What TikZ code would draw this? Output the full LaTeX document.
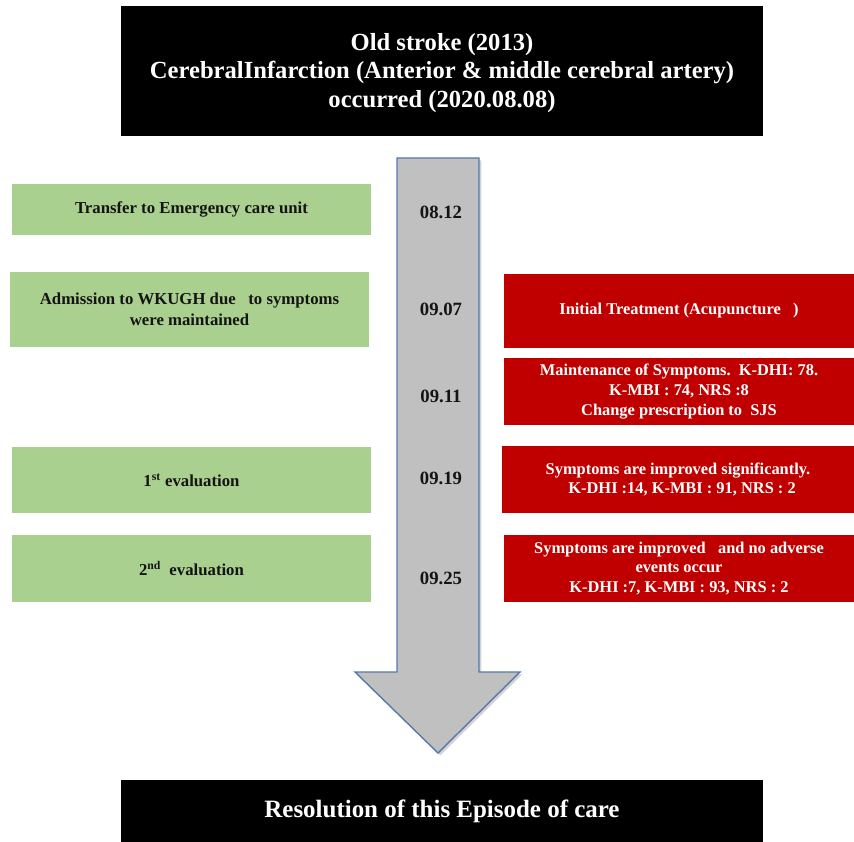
\documentclass[tikz,border=0pt]{standalone}
\usepackage{fontspec}
\setmainfont{Liberation Serif}
\definecolor{boxGreen}{RGB}{169, 208, 142}
\definecolor{boxRed}{RGB}{192, 0, 0}
\definecolor{arrowGray}{RGB}{192, 192, 192}
\definecolor{arrowEdge}{RGB}{84, 122, 172}
\definecolor{textDark}{RGB}{20, 20, 20}
\usepackage{tikz}
\usetikzlibrary{shadows}

\tikzset{
  blackbox/.style={fill=black,text=white,inner sep=0pt,align=center,font=\bfseries},
  greenbox/.style={fill=boxGreen,text=textDark,inner sep=0pt,align=center,minimum width=10.77cm,font=\fontsize{14.3}{18}\selectfont\bfseries},
  redbox/.style={fill=boxRed,text=white,inner sep=0pt,align=center,minimum width=10.5cm,font=\fontsize{14}{16.8}\selectfont\bfseries},
  datelabel/.style={text=textDark,font=\fontsize{16}{18}\selectfont\bfseries}
}

\begin{document}
\begin{tikzpicture}[x=0.03cm,y=-0.03cm]
  \useasboundingbox (0,0) rectangle (854,842);
  % Big arrow - time line
  \draw[arrowEdge,line width=1.2pt,fill=arrowGray,line join=miter,
        drop shadow={shadow xshift=2pt,shadow yshift=-2pt,opacity=0.35}]
    (397,158) -- (479,158) -- (479,672) -- (520,672) -- (438,753)
    -- (355,672) -- (397,672) -- cycle;
  % Onset
  \node[blackbox,minimum width=19.26cm,minimum height=3.9cm] (onsetbox) at (442,71) {};
  \node[text=white,align=center,inner sep=0pt,
        font=\fontsize{21}{24}\selectfont\bfseries] (onset) at (442,73)
    {Old stroke (2013)\\CerebralInfarction (Anterior \& middle cerebral artery)\\occurred (2020.08.08)};
  % Dates
  \node[datelabel] (d1) at (441,212) {08.12};
  \node[datelabel] (d2) at (441,309) {09.07};
  \node[datelabel] (d3) at (441,396) {09.11};
  \node[datelabel] (d4) at (441,478) {09.19};
  \node[datelabel] (d5) at (441,578) {09.25};
  % Course of care
  \node[greenbox,minimum height=1.53cm] (emerg) at (191.5,209.5) {Transfer to Emergency care unit};
  \node[greenbox,minimum height=2.25cm] (admit) at (189.5,309.5) {Admission to WKUGH due\ \ \ to symptoms\\were maintained};
  \node[greenbox,minimum height=1.98cm] (eval1) at (191.5,480) {1\textsuperscript{st} evaluation};
  \node[greenbox,minimum height=2.01cm] (eval2) at (191.5,568.5) {2\textsuperscript{nd}\ \ evaluation};
  % Findings
  \node[redbox,minimum height=2.22cm] (treat) at (679,311) {Initial Treatment (Acupuncture\ \ \ )};
  \node[redbox,minimum height=2.01cm] (maint) at (679,391.5) {Maintenance of Symptoms.\ \ K-DHI: 78.\\K-MBI : 74, NRS :8\\Change prescription to\ \ SJS};
  \node[redbox,minimum width=10.56cm,minimum height=2.01cm] (impr1) at (678,479.5) {Symptoms are improved significantly.\\\ \ K-DHI :14, K-MBI : 91, NRS : 2};
  \node[redbox,minimum height=2.01cm] (impr2) at (679,568.5) {Symptoms are improved\ \ \ and no adverse\\events occur\\K-DHI :7, K-MBI : 93, NRS : 2};
  % Outcome
  \node[blackbox,minimum width=19.26cm,minimum height=1.86cm,
        font=\fontsize{21.3}{24}\selectfont\bfseries] (outcome) at (442,811)
    {Resolution of this Episode of care};
\end{tikzpicture}
\end{document}
